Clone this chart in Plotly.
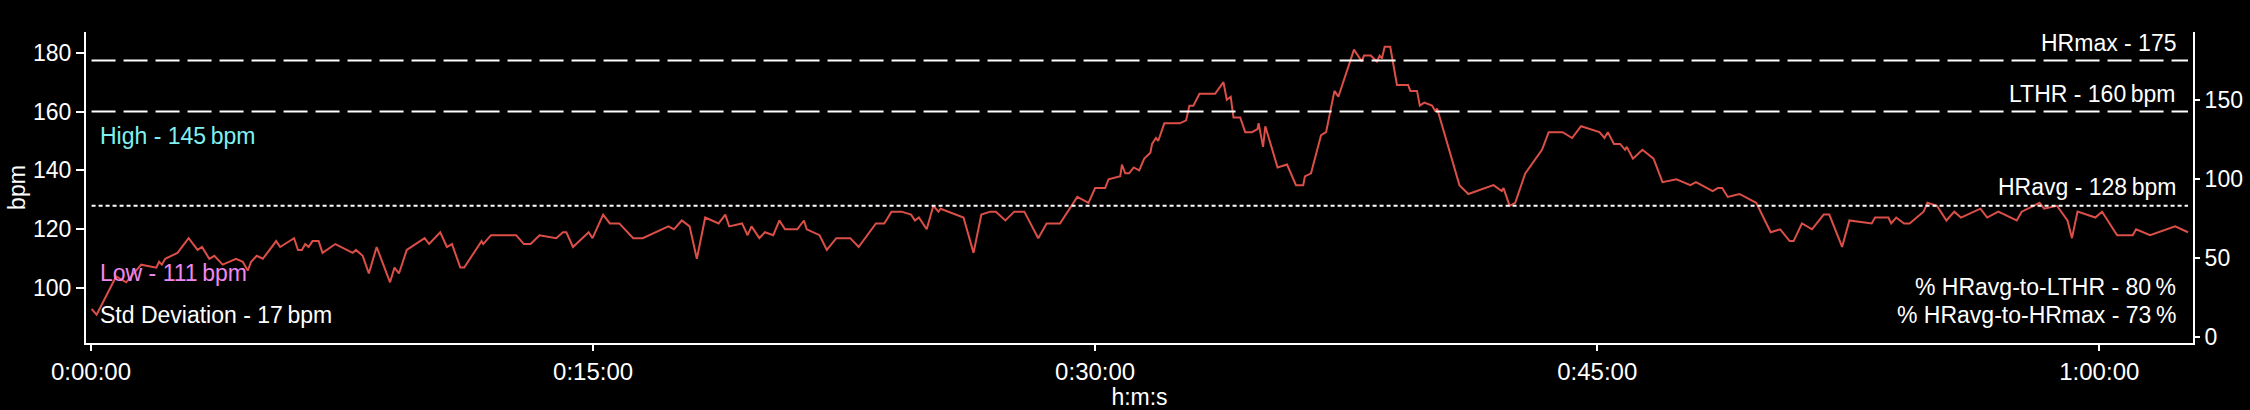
import plotly.graph_objects as go

# ---- data (elapsed seconds, heart rate bpm) ----
times_s = [1, 10, 45, 63, 90, 117, 122, 127, 133, 155, 175, 191, 199, 212, 221, 236, 260, 272, 281, 287,
           297, 308, 332, 339, 364, 371, 378, 384, 390, 397, 408, 415, 438, 469, 475, 487, 498, 512, 536, 544,
           552, 566, 598, 606, 626, 638, 647, 662, 669, 700, 703, 717, 762, 776, 788, 804, 834, 846, 852, 864,
           892, 899, 918, 930, 947, 972, 989, 1035, 1045, 1059, 1073, 1086, 1101, 1125, 1137, 1144, 1167, 1177,
           1184, 1198, 1208, 1223, 1234, 1244, 1266, 1278, 1283, 1306, 1319, 1336, 1361, 1376, 1407, 1422, 1435,
           1453, 1470, 1477, 1484, 1498, 1510, 1519, 1523, 1564, 1582, 1596, 1612, 1622, 1639, 1655, 1673, 1698,
           1713, 1737, 1768, 1788, 1800, 1818, 1824, 1845, 1848, 1854, 1861, 1869, 1879, 1888, 1899, 1902, 1909,
           1913, 1924, 1952, 1963, 1969, 1976, 1987, 2015, 2030, 2036, 2043, 2048, 2060, 2069, 2081, 2091, 2093,
           2101, 2105, 2127, 2144, 2160, 2173, 2176, 2187, 2205, 2214, 2229, 2236, 2264, 2278, 2282, 2294, 2305,
           2310, 2314, 2319, 2329, 2341, 2361, 2365, 2377, 2382, 2390, 2404, 2410, 2413, 2453, 2469, 2514, 2529,
           2532, 2543, 2553, 2571, 2601, 2613, 2638, 2655, 2671, 2704, 2713, 2719, 2730, 2741, 2750, 2753, 2764,
           2781, 2801, 2817, 2842, 2867, 2877, 2907, 2916, 2924, 2934, 2955, 2985, 3005, 3011, 3028, 3045, 3052,
           3067, 3085, 3106, 3116, 3139, 3152, 3192, 3198, 3222, 3227, 3236, 3250, 3260, 3285, 3292, 3309, 3326,
           3340, 3352, 3387, 3399, 3419, 3452, 3461, 3493, 3501, 3524, 3543, 3551, 3561, 3593, 3605, 3632, 3660,
           3666, 3691, 3736, 3759]
hr_bpm = [93, 91, 104, 102, 108, 107, 109, 108, 110, 112, 117, 113, 114, 110, 111, 108, 110, 109, 106, 109,
          111, 110, 116, 114, 117, 113, 113, 115, 114, 116, 116, 112, 115, 112, 113, 111, 105, 114, 102, 107,
          105, 113, 117, 115, 119, 114, 115, 107, 107, 116, 115, 118, 118, 115, 115, 118, 117, 119, 119, 114,
          119, 117, 125, 122, 122, 117, 117, 121, 120, 123, 121, 110, 124, 122, 125, 121, 122, 118,
          121, 117, 119, 118, 123, 120, 120, 123, 120, 118, 113, 117, 117, 114, 122, 122, 126,
          126, 125, 123, 124, 120, 128, 126, 127, 124, 112, 125, 126, 126, 123, 126, 126, 117,
          122, 122, 131, 129, 134, 134, 137, 138, 142, 139, 139, 141, 140, 144, 146, 149, 151,
          150, 156, 156, 157, 162, 162, 166, 166, 170, 164, 165, 158, 158, 153, 153, 154, 156,
          148, 155, 141, 142, 135, 135, 138, 139, 152, 153, 167, 165, 181, 177, 179, 179, 177,
          179, 178, 182, 182, 169, 169, 167, 167, 162, 163, 162, 160, 161, 135, 132, 135, 133,
          134, 128, 129, 139, 147, 153, 153, 151, 155, 153, 151, 153, 149, 149, 147, 148, 144,
          147, 144, 136, 137, 135, 136, 133, 134, 134, 131, 132, 129, 121, 119, 120, 116, 116,
          122, 120, 125, 125, 114, 123, 122, 124, 124, 122, 124, 122, 122, 126, 129, 128, 123,
          126, 124, 127, 124, 126, 123, 126, 129, 127, 128, 123, 117, 126, 124, 126, 118, 118,
          120, 118, 121, 119]

hr_max = 175          # drawn on the secondary axis
lthr = 160
hr_avg = 128
hr_high = 145
hr_low = 111
hr_std = 17
pct_avg_lthr = 80
pct_avg_max = 73

x_tickvals = [0, 900, 1800, 2700, 3600]
x_ticktext = ["0:00:00", "0:15:00", "0:30:00", "0:45:00", "1:00:00"]
y_tickvals = [100, 120, 140, 160, 180]
y2_tickvals = [0, 50, 100, 150]

FONT = "Liberation Sans, Arial, Helvetica, sans-serif"
TS = "\u2009"

t0, t1 = times_s[0], times_s[-1]

fig = go.Figure()
fig.add_trace(go.Scatter(x=times_s, y=hr_bpm, mode="lines",
                         line=dict(color="#db4f48", width=2), hoverinfo="skip"))
fig.add_trace(go.Scatter(x=[t0, t1], y=[lthr, lthr], mode="lines",
                         line=dict(color="white", width=2, dash="24px,8px"), hoverinfo="skip"))
fig.add_trace(go.Scatter(x=[t0, t1], y=[hr_avg, hr_avg], mode="lines",
                         line=dict(color="white", width=2, dash="4px,3px"), hoverinfo="skip"))
fig.add_trace(go.Scatter(x=[t0, t1], y=[hr_max, hr_max], mode="lines", yaxis="y2",
                         line=dict(color="white", width=2, dash="24px,8px"), hoverinfo="skip"))

L, R, T, B = 86, 57, 32, 67
W, H = 2250, 410
pw, ph = W - L - R, H - T - B

def px(xp):
    return (xp - L) / pw

def py(yp):
    return (H - B - yp) / ph

ann = []
def add(text, xp, yp, anchor, color="white", size=23):
    ann.append(dict(text=text, x=px(xp), y=py(yp), xref="paper", yref="paper",
                    xanchor=anchor, yanchor="middle", showarrow=False,
                    font=dict(color=color, size=size, family=FONT)))

add(f"HRmax - {hr_max}", 2178, 43, "right")
add(f"LTHR - {lthr}{TS}bpm", 2178, 94, "right")
add(f"HRavg - {hr_avg}{TS}bpm", 2178, 187, "right")
add(f"% HRavg-to-LTHR - {pct_avg_lthr}{TS}%", 2178, 287, "right")
add(f"% HRavg-to-HRmax - {pct_avg_max}{TS}%", 2178, 315, "right")
add(f"High - {hr_high}{TS}bpm", 98, 136, "left", color="#80f0f0")
add(f"Low - {hr_low}{TS}bpm", 98, 273, "left", color="#ee88ee")
add(f"Std Deviation - {hr_std}{TS}bpm", 98, 315, "left")

axis_common = dict(showgrid=False, zeroline=False, showline=True, linecolor="white",
                   linewidth=2, ticks="outside", tickcolor="white", tickwidth=2)

fig.update_layout(
    width=W, height=H,
    margin=dict(l=L, r=R, t=T, b=B, autoexpand=False),
    paper_bgcolor="black", plot_bgcolor="black",
    showlegend=False,
    font=dict(family=FONT, color="white", size=23),
    xaxis=dict(range=[-9, 3768], tickvals=x_tickvals, ticktext=x_ticktext, ticklen=6,
               tickfont=dict(color="white", size=24, family=FONT),
               title=dict(text="h:m:s", font=dict(size=23, color="white", family=FONT), standoff=2),
               automargin=False, **axis_common),
    yaxis=dict(range=[81.4, 187.0], tickvals=y_tickvals, ticklen=8,
               tickfont=dict(color="white", size=23, family=FONT),
               title=dict(text="bpm", font=dict(size=23, color="white", family=FONT), standoff=1),
               automargin=False, **axis_common),
    yaxis2=dict(range=[-3.6, 193.0], tickvals=y2_tickvals, ticklen=5, overlaying="y", side="right",
                tickfont=dict(color="white", size=23, family=FONT),
                automargin=False, **axis_common),
    annotations=ann,
)

fig.write_html("out.html", config={"displayModeBar": False},
               post_script="document.body.style.margin='0';document.body.style.background='black';")
